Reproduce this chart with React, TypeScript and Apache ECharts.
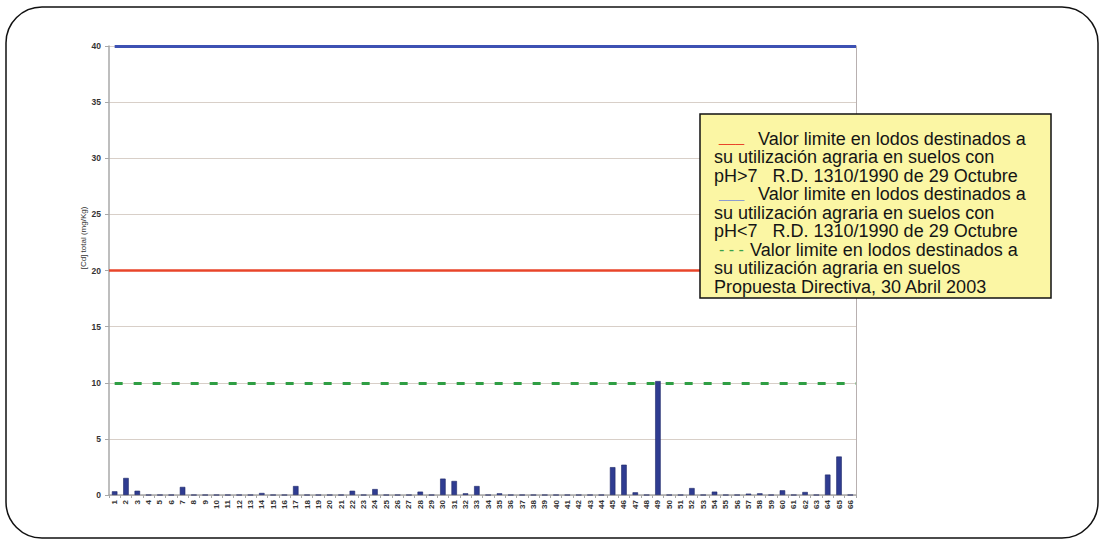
import React, { useEffect, useRef } from "react";
import * as echarts from "echarts";

const categories: string[] = Array.from({ length: 66 }, (_, i) => String(i + 1));
const cdValues: number[] = [
  0.33, 1.52, 0.38, 0, 0, 0, 0.72, 0, 0, 0,
  0, 0, 0, 0.18, 0, 0, 0.8, 0, 0, 0,
  0, 0.38, 0, 0.53, 0, 0, 0, 0.3, 0, 1.46,
  1.25, 0.15, 0.8, 0, 0.15, 0, 0, 0, 0, 0,
  0, 0, 0, 0, 2.48, 2.7, 0.24, 0, 10.15, 0,
  0, 0.62, 0, 0.3, 0, 0, 0.12, 0.15, 0, 0.42,
  0, 0.27, 0, 1.82, 3.43, 0,
];
const limitPhAbove7 = 20;
const limitPhBelow7 = 40;
const limitProposal = 10;
const yTicks = { min: 0, max: 40, interval: 5 };

const legendLines: { prefix?: string; prefixColor?: string; text: string }[] = [
  { prefix: "___", prefixColor: "#e8452a", text: "Valor limite en lodos destinados a" },
  { text: "su utilización agraria en suelos con" },
  { text: "pH>7   R.D. 1310/1990 de 29 Octubre" },
  { prefix: "___", prefixColor: "#8c9ccf", text: "Valor limite en lodos destinados a" },
  { text: "su utilización agraria en suelos con" },
  { text: "pH<7   R.D. 1310/1990 de 29 Octubre" },
  { prefix: "- - -", prefixColor: "#3aa04a", text: "Valor limite en lodos destinados a" },
  { text: "su utilización agraria en suelos" },
  { text: "Propuesta Directiva, 30 Abril 2003" },
];

export default function App() {
  const ref = useRef<HTMLDivElement>(null);
  useEffect(() => {
    document.body.style.margin = "0";
    const chart = echarts.init(ref.current!, null, { renderer: "svg" });
    const font = "Liberation Sans, Arial, sans-serif";
    const gridTop = 46, gridBottom = 49, gridLeft = 109, gridRight = 248;
    const plotH = 544 - gridTop - gridBottom;
    const plotRightX = 1104 - gridRight;
    const yPix = (v: number) => gridTop + plotH * (1 - (v - yTicks.min) / (yTicks.max - yTicks.min));

    const legendEls: any[] = [];
    const boxX = 700, boxY = 114, boxW = 351, boxH = 184;
    legendEls.push({
      type: "rect",
      shape: { x: boxX, y: boxY, width: boxW, height: boxH },
      style: { fill: "#fbf6a4", stroke: "#111", lineWidth: 1.5 },
      z: 10,
    });
    legendLines.forEach((l, i) => {
      const y = 138.5 + i * 18.55;
      let x = 714;
      if (l.prefix) {
        legendEls.push({
          type: "text",
          x: 719,
          y: l.prefix === "___" ? y - 2 : y,
          style: {
            text: l.prefix,
            fill: l.prefixColor,
            font: `${l.prefix === "___" ? 15 : 16}px ${font}`,
            textVerticalAlign: "middle",
          },
          z: 11,
        });
        x = l.prefix === "___" ? 758 : 750;
      }
      legendEls.push({
        type: "text",
        x,
        y,
        style: {
          text: l.text,
          fill: "#151515",
          font: `18px ${font}`,
          textVerticalAlign: "middle",
        },
        z: 11,
      });
    });

    chart.setOption({
      animation: false,
      grid: { left: gridLeft, right: gridRight, top: gridTop, bottom: gridBottom, containLabel: false },
      xAxis: {
        type: "category",
        data: categories,
        boundaryGap: true,
        axisLine: { show: true, lineStyle: { color: "#a8a8a8", width: 1.5 } },
        axisTick: { show: true, length: 3, lineStyle: { color: "#a8a8a8" } },
        axisLabel: {
          interval: 0,
          rotate: 90,
          fontSize: 8,
          fontFamily: font,
          fontWeight: "bold",
          color: "#333",
          margin: 5,
        },
      },
      yAxis: [
        {
          type: "value",
          min: yTicks.min,
          max: yTicks.max,
          interval: yTicks.interval,
          axisLine: { show: true, lineStyle: { color: "#a8a8a8", width: 1.5 } },
          axisTick: { show: true, length: 4, lineStyle: { color: "#a8a8a8" } },
          axisLabel: {
            fontSize: 8.5,
            fontFamily: font,
            fontWeight: "bold",
            color: "#333",
            margin: 8,
          },
          splitLine: { show: true, lineStyle: { color: "#d8cfc8", width: 1 } },
        },
        {
          type: "value",
          position: "right",
          min: yTicks.min,
          max: yTicks.max,
          interval: yTicks.interval,
          axisLine: { show: true, lineStyle: { color: "#b8b0b0", width: 1 } },
          axisTick: { show: false },
          axisLabel: { show: false },
          splitLine: { show: false },
        },
      ],
      series: [
        {
          type: "bar",
          data: cdValues,
          barWidth: 5.5,
          itemStyle: { color: "#2f3c91", borderColor: "#1d2766", borderWidth: 0.6 },
          markLine: {
            silent: true,
            symbol: "none",
            label: { show: false },
            data: [
              [
                { coord: ["1", limitPhBelow7], lineStyle: { color: "#3d51b3", width: 3, type: "solid" } },
                { x: plotRightX, y: yPix(limitPhBelow7) },
              ],
              { yAxis: limitPhAbove7, lineStyle: { color: "#e8452a", width: 2.5, type: "solid" } },
              [
                { coord: ["1", limitProposal], lineStyle: { color: "#2f9e44", width: 3, type: [8, 11] } },
                { x: plotRightX, y: yPix(limitProposal) },
              ],
            ],
          },
          z: 3,
        },
      ],
      graphic: [
        {
          type: "rect",
          shape: { x: 6, y: 7, width: 1092, height: 531, r: 36 },
          style: { fill: "none", stroke: "#111", lineWidth: 1.5 },
          z: 0,
        },
        {
          type: "text",
          x: 83,
          y: 238,
          rotation: Math.PI / 2,
          style: {
            text: "[Cd] total (mg/Kg)",
            fill: "#333",
            font: `8px ${font}`,
            textAlign: "center",
            textVerticalAlign: "middle",
          },
        },
        ...legendEls,
      ],
    });
    return () => chart.dispose();
  }, []);
  return <div ref={ref} style={{ width: 1104, height: 544 }} />;
}
